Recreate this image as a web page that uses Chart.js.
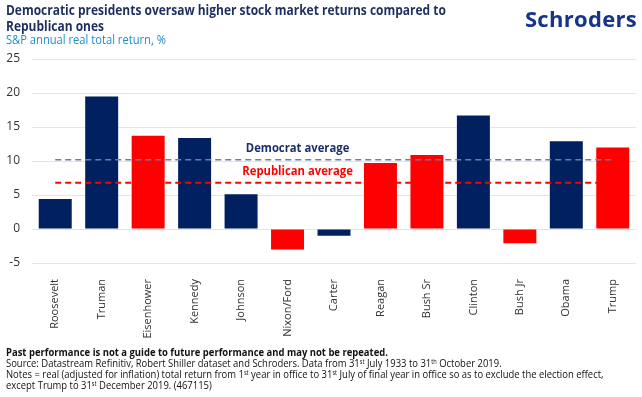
<!DOCTYPE html>
<html>
<head>
<meta charset="utf-8">
<script src="https://cdn.jsdelivr.net/npm/chart.js@4/dist/chart.umd.min.js"></script>
<style>
body{margin:0;background:#fff;font-family:"Open Sans",sans-serif;}
#wrap{position:relative;width:642px;height:397px;overflow:hidden;background:#fff}
#myChart{position:absolute;left:0;top:0}
.txt{position:absolute;left:6px;white-space:nowrap;transform-origin:0 0}
#title{top:2px;font-size:14px;line-height:16px;font-weight:700;color:#1c2f5e;transform:scaleX(0.855)}
#sub{top:33px;font-size:12px;line-height:14px;color:#1d8dcc;transform:scaleX(0.93)}
#logo{position:absolute;right:5px;top:3px;font-size:22px;line-height:30px;font-weight:700;color:#15348a;letter-spacing:0.3px}
#notes{top:347px;font-size:10.5px;line-height:11px;color:#111;transform:scaleX(0.9)}
#notes b{font-weight:700}
sup{font-size:0.6em;line-height:0;vertical-align:0.5em}
</style>
</head>
<body>
<div id="wrap">
<canvas id="myChart" width="642" height="397"></canvas>
<div class="txt" id="title">Democratic presidents oversaw higher stock market returns compared to<br>Republican ones</div>
<div class="txt" id="sub">S&amp;P annual real total return, %</div>
<div id="logo">Schroders</div>
<div class="txt" id="notes"><b>Past performance is not a guide to future performance and may not be repeated.</b><br>Source: Datastream Refinitiv, Robert Shiller dataset and Schroders. Data from 31<sup>st</sup> July 1933 to 31<sup>th</sup> October 2019.<br>Notes = real (adjusted for inflation) total return from 1<sup>st</sup> year in office to 31<sup>st</sup> July of final year in office so as to exclude the election effect,<br>except Trump to 31<sup>st</sup> December 2019. (467115)</div>
</div>
<script>
// data
const presidents = ['Roosevelt','Truman','Eisenhower','Kennedy','Johnson','Nixon/Ford','Carter','Reagan','Bush Sr','Clinton','Bush Jr','Obama','Trump'];
const returns = [4.4, 19.5, 13.7, 13.4, 5.1, -3.0, -1.0, 9.7, 10.9, 16.7, -2.1, 12.9, 12.0];
const parties = ['D','D','R','D','D','R','D','R','R','D','R','D','R'];
const demAverage = 10.2;
const repAverage = 6.8;
const yMin = -5, yMax = 25, yStep = 5;

const navy = '#002060';
const red = '#ff0000';

const avgLabels = {
    id:'avgLabels',
    afterDatasetsDraw(chart){
        const ctx = chart.ctx;
        const x = chart.scales.x, y = chart.scales.y;
        const cx = x.getPixelForValue(5) + 10;
        const draw = (txt, val, col) => {
            ctx.save();
            ctx.translate(cx, y.getPixelForValue(val) - 11);
            ctx.scale(0.94, 1);
            ctx.font = '700 12px "Open Sans"';
            ctx.fillStyle = col;
            ctx.textAlign = 'center';
            ctx.textBaseline = 'middle';
            ctx.fillText(txt, 0, 0);
            ctx.restore();
        };
        draw('Democrat average', demAverage, '#1c2f6e');
        draw('Republican average', repAverage, red);
    }
};

const ctx = document.getElementById('myChart').getContext('2d');
let myChart = new Chart(ctx, {
    type: 'bar',
    data: {
        labels: presidents,
        datasets: [{
            label: 'Return',
            data: returns,
            backgroundColor: parties.map(p => p == 'D' ? navy : red),
            categoryPercentage: 1,
            barPercentage: 0.71,
            order: 2
        },{
            type: 'line',
            label: 'Democrat average',
            data: [{x: presidents[0], y: demAverage}, {x: presidents[presidents.length-1], y: demAverage}],
            borderColor: '#6d7ea8',
            borderWidth: 1.5,
            borderDash: [6, 4],
            pointRadius: 0,
            order: 1
        },{
            type: 'line',
            label: 'Republican average',
            data: [{x: presidents[0], y: repAverage}, {x: presidents[presidents.length-1], y: repAverage}],
            borderColor: red,
            borderWidth: 2,
            borderDash: [6, 4],
            pointRadius: 0,
            order: 1
        }]
    },
    options: {
        responsive: false,
        animation: false,
        layout: { padding: { top: 59, right: 6, left: 0, bottom: 0 } },
        plugins: { legend: { display: false }, tooltip: { enabled: false } },
        scales: {
            x: {
                grid: { display: false },
                border: { display: false },
                ticks: {
                    autoSkip: false, minRotation: 90, maxRotation: 90, padding: 8,
                    color: '#333', font: { family: 'Open Sans', size: 11 }
                },
                afterFit: s => { s.height = 134; }
            },
            y: {
                min: yMin, max: yMax,
                grid: { color: '#e4e4e4', drawTicks: false },
                border: { display: false },
                ticks: {
                    stepSize: yStep, padding: 12,
                    color: '#333', font: { family: 'Open Sans', size: 12 }
                },
                afterFit: s => { s.width = 32; }
            }
        }
    },
    plugins: [avgLabels]
});
</script>
</body>
</html>
